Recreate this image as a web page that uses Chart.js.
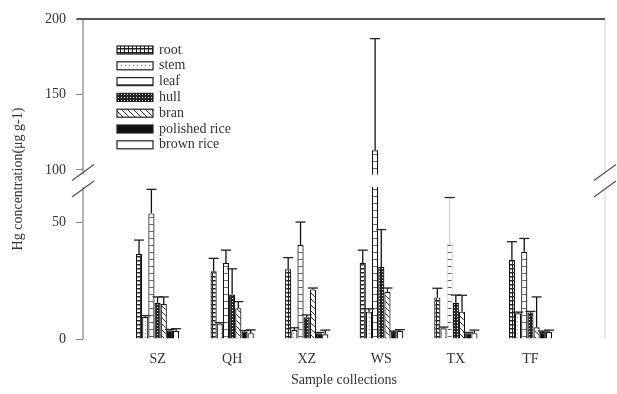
<!DOCTYPE html>
<html>
<head>
<meta charset="utf-8">
<script src="https://cdn.jsdelivr.net/npm/chart.js@4.4.1/dist/chart.umd.min.js"></script>
<style>
  html, body { margin: 0; padding: 0; background: #fff; }
  #wrap { width: 617px; height: 394px; }
</style>
</head>
<body>
<div id="wrap"><canvas id="myChart" width="617" height="394"></canvas></div>
<script>
// data
const categories = ['SZ', 'QH', 'XZ', 'WS', 'TX', 'TF'];
const seriesNames = ['root', 'stem', 'leaf', 'hull', 'bran', 'polished rice', 'brown rice'];

const root = [36.3, 29.0, 29.8, 32.5, 17.8, 33.8];
const rootErr = [6.0, 5.5, 5.0, 5.5, 3.9, 7.8];
const stem = [9.5, 6.6, 3.8, 11.7, 4.6, 11.0];
const stemErr = [0.5, 0.4, 1.0, 1.2, 0.5, 0.5];
const leaf = [53.7, 32.5, 40.2, 113.0, 40.9, 37.3];
const leafErr = [10.3, 5.5, 9.8, 74.0, 19.6, 5.7];
const hull = [15.5, 19.0, 9.3, 30.8, 15.5, 11.3];
const hullErr = [2.5, 11.0, 1.0, 16.0, 3.3, 0.5];
const bran = [15.0, 13.2, 21.2, 20.2, 11.7, 5.0];
const branErr = [3.0, 2.8, 0.6, 1.6, 7.0, 13.0];
const polished = [3.7, 3.2, 2.5, 3.0, 2.5, 3.0];
const polishedErr = [0.4, 0.4, 0.3, 0.4, 0.3, 0.4];
const brown = [3.5, 2.5, 2.0, 3.5, 2.5, 3.0];
const brownErr = [0.9, 1.4, 1.8, 0.5, 1.3, 0.8];

const yTicks = [0, 50, 100, 150, 200];
const breakFrom = 65;   // top of lower segment
const breakTo = 97;     // bottom of upper segment

const serif = "'Liberation Serif', 'DejaVu Serif', serif";

// y axis with a break in it
class BrokenScale extends Chart.LinearScale {
  _frac(v) {
    const o = this.options.brk;
    if (v <= breakFrom) return (v - this.min) / (breakFrom - this.min) * o.lowFrac;
    if (v >= breakTo) return o.lowFrac + o.gapFrac + (v - breakTo) / (this.max - breakTo) * (1 - o.lowFrac - o.gapFrac);
    return o.lowFrac + (v - breakFrom) / (breakTo - breakFrom) * o.gapFrac;
  }
  getPixelForValue(v) {
    if (v === null || v === undefined) return NaN;
    return this.bottom - this._frac(v) * (this.bottom - this.top);
  }
  getValueForPixel(p) {
    const o = this.options.brk;
    const f = (this.bottom - p) / (this.bottom - this.top);
    if (f <= o.lowFrac) return this.min + f / o.lowFrac * (breakFrom - this.min);
    if (f >= o.lowFrac + o.gapFrac) return breakTo + (f - o.lowFrac - o.gapFrac) / (1 - o.lowFrac - o.gapFrac) * (this.max - breakTo);
    return breakFrom + (f - o.lowFrac) / o.gapFrac * (breakTo - breakFrom);
  }
}
BrokenScale.id = 'broken';
BrokenScale.defaults = Chart.LinearScale.defaults;
Chart.register(BrokenScale);

// fill patterns
function pat(w, h, draw) {
  const c = document.createElement('canvas');
  c.width = w; c.height = h;
  const g = c.getContext('2d');
  draw(g);
  return g.createPattern(c, 'repeat');
}
const fills = [
  pat(4, 4, g => { g.fillStyle = '#fff'; g.fillRect(0, 0, 4, 4); g.fillStyle = '#222'; g.fillRect(0, 0, 4, 1.5); g.fillRect(0, 0, 1, 4); }),
  pat(4, 4, g => { g.fillStyle = '#fff'; g.fillRect(0, 0, 4, 4); g.fillStyle = '#999'; g.fillRect(1, 1, 1, 1); }),
  pat(2, 7, g => { g.fillStyle = '#fff'; g.fillRect(0, 0, 2, 7); g.fillStyle = '#666'; g.fillRect(0, 0, 2, 1); }),
  pat(3, 3, g => { g.fillStyle = '#222'; g.fillRect(0, 0, 3, 3); g.fillStyle = '#fff'; g.fillRect(1, 1, 1, 1); }),
  pat(6, 6, g => { g.fillStyle = '#fff'; g.fillRect(0, 0, 6, 6); g.strokeStyle = '#333'; g.lineWidth = 1; g.beginPath(); g.moveTo(0, 0); g.lineTo(6, 6); g.stroke(); }),
  '#111',
  '#fff'
];

const values = [root, stem, leaf, hull, bran, polished, brown];
const errors = [rootErr, stemErr, leafErr, hullErr, branErr, polishedErr, brownErr];
const pad = a => [null, ...a, null];

const datasets = seriesNames.map((name, k) => ({
  label: name,
  data: pad(values[k]),
  errors: pad(errors[k]),
  backgroundColor: fills[k],
  // the TX leaf bar is printed very faint in the original
  borderColor: pad(categories.map(c => (k === 2 && c === 'TX') ? '#d4d4d4' : '#111')),
  borderWidth: 1.2,
  borderSkipped: 'bottom'
}));

const breakPlugin = {
  id: 'breakAndErrors',
  afterDatasetsDraw(chart) {
    const {ctx, chartArea: a} = chart;
    const y = chart.scales.y;
    const gTop = y.getPixelForValue(breakTo);
    const gBot = y.getPixelForValue(breakFrom);
    ctx.save();
    // gap through the bars
    ctx.fillStyle = '#fff';
    ctx.fillRect(a.left + 1, gTop, a.right - a.left - 2, gBot - gTop);
    // error bars, upper side only
    chart.data.datasets.forEach((ds, d) => {
      const meta = chart.getDatasetMeta(d);
      meta.data.forEach((el, i) => {
        const v = ds.data[i];
        if (v === null) return;
        const top = y.getPixelForValue(v + ds.errors[i]);
        ctx.strokeStyle = Array.isArray(ds.borderColor) ? ds.borderColor[i] : ds.borderColor;
        ctx.lineWidth = 1.3;
        ctx.beginPath();
        ctx.moveTo(el.x, el.y);
        ctx.lineTo(el.x, top);
        ctx.stroke();
        ctx.strokeStyle = '#222';
        ctx.beginPath();
        ctx.moveTo(el.x - 5, top);
        ctx.lineTo(el.x + 5, top);
        ctx.stroke();
      });
    });
    ctx.restore();
  },
  afterDraw(chart) {
    const {ctx, chartArea: a} = chart;
    const y = chart.scales.y;
    const gTop = y.getPixelForValue(breakTo);
    const gBot = y.getPixelForValue(breakFrom);
    ctx.save();
    // frame
    ctx.lineWidth = 1.5;
    ctx.strokeStyle = '#9a9a9a';
    ctx.beginPath();
    ctx.moveTo(a.left, a.top); ctx.lineTo(a.left, gTop);
    ctx.moveTo(a.left, gBot); ctx.lineTo(a.left, a.bottom);
    ctx.stroke();
    ctx.strokeStyle = '#e2e2e2';
    ctx.beginPath();
    ctx.moveTo(a.right, a.top); ctx.lineTo(a.right, gTop);
    ctx.moveTo(a.right, gBot); ctx.lineTo(a.right, a.bottom);
    ctx.stroke();
    ctx.strokeStyle = '#555';
    ctx.lineWidth = 2;
    ctx.beginPath();
    ctx.moveTo(a.left - 6, a.top); ctx.lineTo(a.right, a.top);
    ctx.stroke();
    // break marks
    ctx.strokeStyle = '#555';
    ctx.lineWidth = 1.2;
    [a.left, a.right].forEach(cx => {
      [gTop - 2, gBot + 2].forEach(cy => {
        ctx.beginPath();
        ctx.moveTo(cx - 11, cy + 8);
        ctx.lineTo(cx + 11, cy - 8);
        ctx.stroke();
      });
    });
    // legend
    const x0 = a.left + 34, y0 = a.top + 31;
    ctx.font = '14px ' + serif;
    ctx.textBaseline = 'middle';
    chart.data.datasets.forEach((ds, k) => {
      const yy = y0 + k * 15.8;
      ctx.fillStyle = ds.backgroundColor;
      ctx.fillRect(x0, yy - 4, 36, 8);
      ctx.strokeStyle = '#222';
      ctx.lineWidth = 1.2;
      ctx.strokeRect(x0, yy - 4, 36, 8);
      ctx.fillStyle = '#333';
      ctx.fillText(ds.label, x0 + 42, yy);
    });
    ctx.restore();
  }
};

const ctx = document.getElementById('myChart').getContext('2d');

new Chart(ctx, {
  type: 'bar',
  data: {
    labels: pad(categories).map(c => c === null ? '' : c),
    datasets: datasets
  },
  options: {
    responsive: false,
    animation: false,
    layout: { padding: { top: 19, right: 10, left: 0, bottom: 0 } },
    datasets: {
      bar: { categoryPercentage: 0.58, barPercentage: 1.0 }
    },
    scales: {
      x: {
        type: 'category',
        offset: false,
        grid: { display: false, drawTicks: false },
        border: { display: false },
        ticks: {
          autoSkip: false,
          maxRotation: 0,
          padding: 12,
          color: '#333',
          font: { family: serif, size: 14 }
        },
        title: {
          display: true,
          text: 'Sample collections',
          color: '#333',
          font: { family: serif, size: 14 },
          padding: { top: 0, bottom: 5 }
        },
        afterFit: s => { s.height = 55; }
      },
      y: {
        type: 'broken',
        min: 0,
        max: 200,
        brk: { lowFrac: 0.475, gapFrac: 0.039 },
        afterBuildTicks: s => { s.ticks = yTicks.map(v => ({ value: v })); },
        grid: { drawOnChartArea: false, drawTicks: true, tickLength: 7, color: '#888' },
        border: { display: false },
        ticks: {
          padding: 10,
          color: '#333',
          font: { family: serif, size: 14 }
        },
        title: {
          display: true,
          text: 'Hg concentration(μg g-1)',
          color: '#333',
          font: { family: serif, size: 14 },
          padding: { top: 10, bottom: 0 }
        },
        afterFit: s => { s.width = 83; }
      }
    },
    plugins: {
      legend: { display: false },
      tooltip: { enabled: false }
    }
  },
  plugins: [breakPlugin]
});
</script>
</body>
</html>
